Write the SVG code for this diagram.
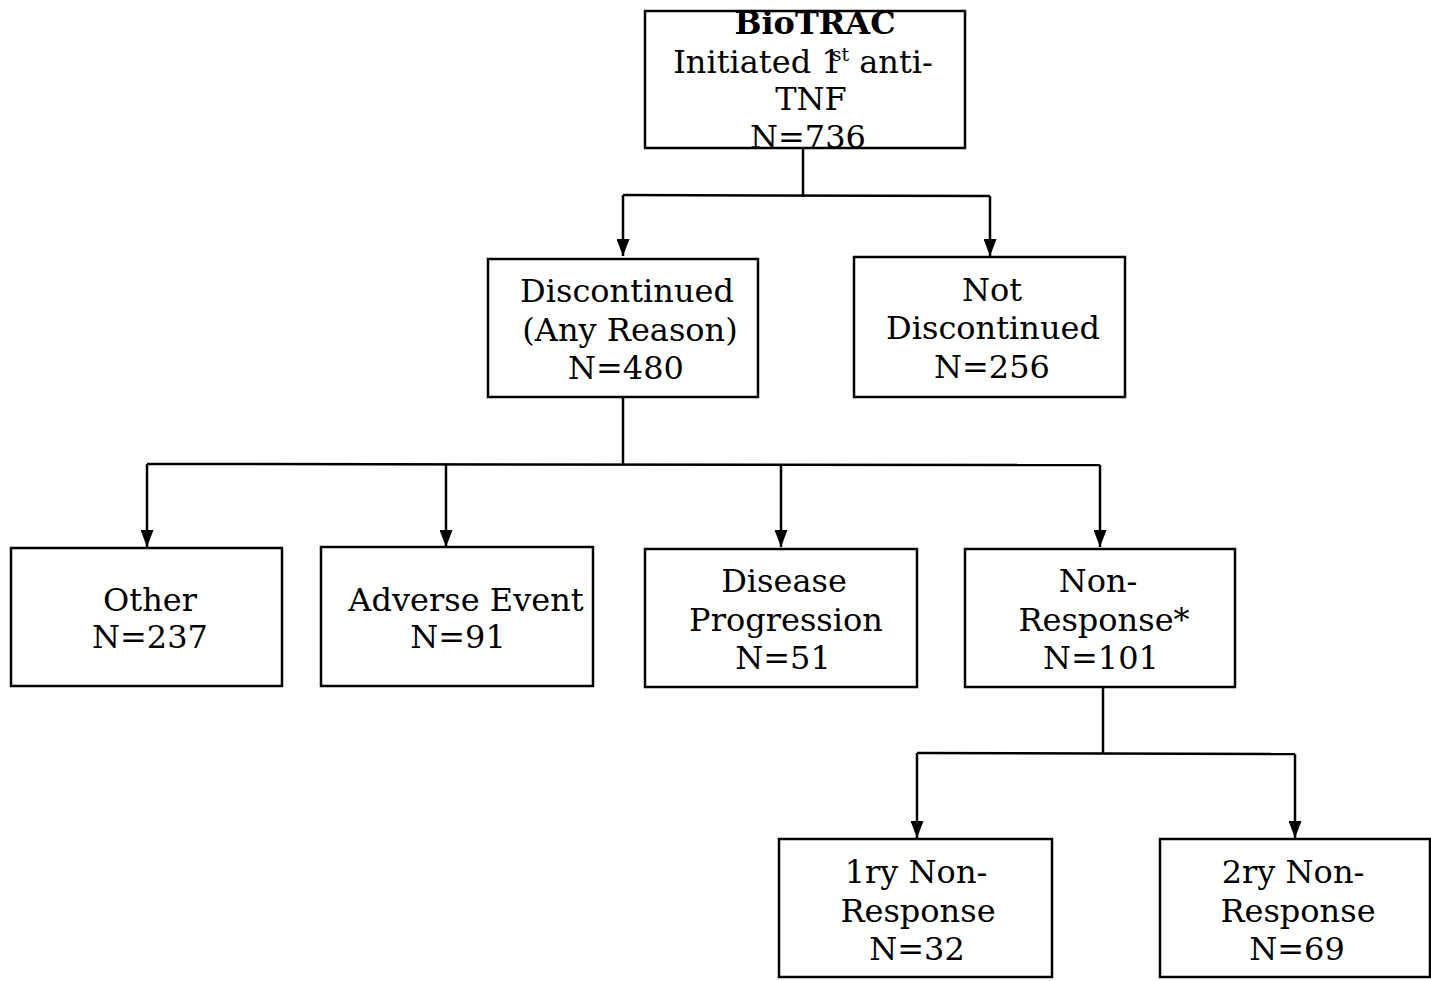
<svg xmlns="http://www.w3.org/2000/svg" width="1431" height="981" viewBox="0 0 1431 981">
<defs>
<marker id="ah2" markerUnits="userSpaceOnUse" markerWidth="17" markerHeight="13" refX="17" refY="6.5" orient="auto" viewBox="0 0 17 13">
<path d="M0,0 L17,6.5 L0,13 Z" fill="#000"/>
</marker>
<style>
.box{fill:#fff;stroke:#000;stroke-width:2.5}
.t{font-family:"DejaVu Serif","Liberation Serif",serif;font-size:32px;fill:#000;text-anchor:middle}
.b{font-weight:bold;font-size:32px}
.c{fill:none;stroke:#000;stroke-width:2.5}
</style>
</defs>
<rect width="1431" height="981" fill="#fff"/>
<g id="connectors">
<path class="c" d="M803,148 V197"/>
<path class="c" d="M623,195 L990,196"/>
<path class="c" d="M623,195 V256" marker-end="url(#ah2)"/>
<path class="c" d="M990,196 V256" marker-end="url(#ah2)"/>
<path class="c" d="M623,397 V464"/>
<path class="c" d="M147,464 L1100,465"/>
<path class="c" d="M147,464 V547" marker-end="url(#ah2)"/>
<path class="c" d="M446,464 V547" marker-end="url(#ah2)"/>
<path class="c" d="M781,465 V547" marker-end="url(#ah2)"/>
<path class="c" d="M1100,465 V547" marker-end="url(#ah2)"/>
<path class="c" d="M1103,687 V754"/>
<path class="c" d="M917,753 L1295,754"/>
<path class="c" d="M917,753 V838" marker-end="url(#ah2)"/>
<path class="c" d="M1295,754 V838" marker-end="url(#ah2)"/>
</g>
<g id="n_top">
<rect class="box" x="645" y="11" width="320" height="137"/>
<text class="t b" x="815" y="34">BioTRAC</text>
<text class="t" x="803" y="73">Initiated 1<tspan font-size="19" dx="-10" dy="-12">st</tspan><tspan dy="12"> anti-</tspan></text>
<text class="t" x="811" y="110">TNF</text>
<text class="t" x="808" y="148">N=736</text>
</g>
<g id="n_disc">
<rect class="box" x="488" y="259" width="270" height="138"/>
<text class="t" x="627" y="302">Discontinued</text>
<text class="t" x="630" y="341">(Any Reason)</text>
<text class="t" x="626" y="379">N=480</text>
</g>
<g id="n_notdisc">
<rect class="box" x="854" y="257" width="271" height="140"/>
<text class="t" x="992" y="301">Not</text>
<text class="t" x="993" y="339">Discontinued</text>
<text class="t" x="992" y="378">N=256</text>
</g>
<g id="n_other">
<rect class="box" x="11" y="548" width="271" height="138"/>
<text class="t" x="150" y="611">Other</text>
<text class="t" x="150" y="648">N=237</text>
</g>
<g id="n_ae">
<rect class="box" x="321" y="547" width="272" height="139"/>
<text class="t" x="466" y="611">Adverse Event</text>
<text class="t" x="458" y="648">N=91</text>
</g>
<g id="n_dp">
<rect class="box" x="645" y="549" width="272" height="138"/>
<text class="t" x="784" y="592">Disease</text>
<text class="t" x="786" y="631">Progression</text>
<text class="t" x="783" y="669">N=51</text>
</g>
<g id="n_nr">
<rect class="box" x="965" y="549" width="270" height="138"/>
<text class="t" x="1098" y="592">Non-</text>
<text class="t" x="1104" y="631">Response*</text>
<text class="t" x="1101" y="669">N=101</text>
</g>
<g id="n_1ry">
<rect class="box" x="779" y="839" width="273" height="138"/>
<text class="t" x="916" y="883">1ry Non-</text>
<text class="t" x="918" y="922">Response</text>
<text class="t" x="917" y="960">N=32</text>
</g>
<g id="n_2ry">
<rect class="box" x="1160" y="839" width="270" height="138"/>
<text class="t" x="1293" y="883">2ry Non-</text>
<text class="t" x="1298" y="922">Response</text>
<text class="t" x="1297" y="960">N=69</text>
</g>
</svg>
